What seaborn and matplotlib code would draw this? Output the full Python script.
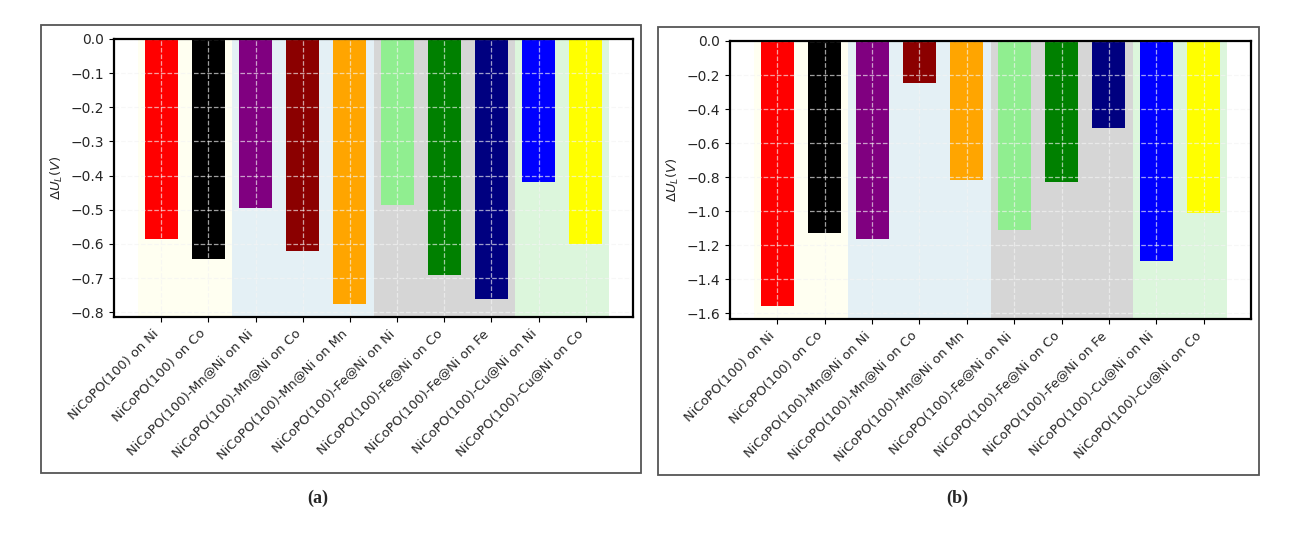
import matplotlib
matplotlib.use("Agg")
import matplotlib.pyplot as plt
from matplotlib.patches import Rectangle
import seaborn as sns
import pandas as pd

categories = [
    "NiCoPO(100) on Ni",
    "NiCoPO(100) on Co",
    "NiCoPO(100)-Mn@Ni on Ni",
    "NiCoPO(100)-Mn@Ni on Co",
    "NiCoPO(100)-Mn@Ni on Mn",
    "NiCoPO(100)-Fe@Ni on Ni",
    "NiCoPO(100)-Fe@Ni on Co",
    "NiCoPO(100)-Fe@Ni on Fe",
    "NiCoPO(100)-Cu@Ni on Ni",
    "NiCoPO(100)-Cu@Ni on Co",
]
values_a = [-0.585, -0.645, -0.495, -0.62, -0.775, -0.485, -0.69, -0.76, -0.42, -0.60]
values_b = [-1.555, -1.125, -1.165, -0.245, -0.815, -1.11, -0.83, -0.51, -1.295, -1.01]
bar_colors = ["red", "black", "purple", "darkred", "orange",
              "lightgreen", "green", "navy", "blue", "yellow"]
# background group spans (start, end, color)
span_edges = [(-0.5, 1.5), (1.5, 4.5), (4.5, 7.5), (7.5, 9.5)]
span_colors = ["#FFFFF1", "#E4F0F5", "#D6D6D6", "#DCF6DC"]
yticks_a = [0.0, -0.1, -0.2, -0.3, -0.4, -0.5, -0.6, -0.7, -0.8]
yticks_b = [0.0, -0.2, -0.4, -0.6, -0.8, -1.0, -1.2, -1.4, -1.6]
captions = ["(a)", "(b)"]

sns.set_style("ticks")
plt.rcParams["font.family"] = ["DejaVu Sans"]
plt.rcParams["font.size"] = 10

W, H = 1290, 538
fig = plt.figure(figsize=(W / 100, H / 100), dpi=100)

def fx(px):
    return px / W

def fy(py):
    return 1 - py / H

axes_px = [(114, 39, 633, 317), (730, 41, 1251, 319)]
frames_px = [(41, 25, 641, 473), (658, 27, 1259, 475)]
caption_px = [(318, 498), (957, 498)]

for i, (vals, yt) in enumerate([(values_a, yticks_a), (values_b, yticks_b)]):
    l, t, r, b = axes_px[i]
    ax = fig.add_axes([fx(l), fy(b), fx(r) - fx(l), fy(t) - fy(b)])
    df = pd.DataFrame({"cat": categories, "val": vals})
    for (s, e), c in zip(span_edges, span_colors):
        ax.axvspan(s, e, color=c, lw=0, zorder=0)
    sns.barplot(data=df, x="cat", y="val", hue="cat", palette=bar_colors,
                legend=False, width=0.7, saturation=1, linewidth=0,
                ax=ax, zorder=2)
    ax.set_xlim(-1, 10)
    ax.set_ylim(min(vals) * 1.05, 0)
    ax.set_yticks(yt)
    ax.set_yticklabels([f"{v:.1f}".replace("-", "\u2212") for v in yt])
    ax.set_xticks(range(len(categories)))
    ax.set_xticklabels(categories, rotation=45, ha="right", fontsize=9.4)
    ax.set_xlabel("")
    ax.set_ylabel(r"$\Delta U_L(V)$", fontsize=9.5)
    ax.grid(True, linestyle="--", color="#f4f4f4", alpha=0.65, linewidth=0.9)
    ax.set_axisbelow(False)
    for sp in ax.spines.values():
        sp.set_visible(True)
        sp.set_color("black")
        sp.set_linewidth(1.6)
        sp.set_zorder(5)
    ax.tick_params(axis="both", labelcolor="#262626", color="black", length=3.5)
    ax.tick_params(axis="y", labelsize=10)

    fl, ft, fr, fb = frames_px[i]
    fig.patches.append(Rectangle((fx(fl), fy(fb)), fx(fr) - fx(fl), fy(ft) - fy(fb),
                                 transform=fig.transFigure, fill=False,
                                 edgecolor="#555555", linewidth=1.3, zorder=-1))
    cx, cy = caption_px[i]
    fig.text(fx(cx), fy(cy), captions[i], ha="center", va="center",
             family="Liberation Serif", fontweight="bold", fontsize=13)

fig.savefig("out.png", dpi=100)
